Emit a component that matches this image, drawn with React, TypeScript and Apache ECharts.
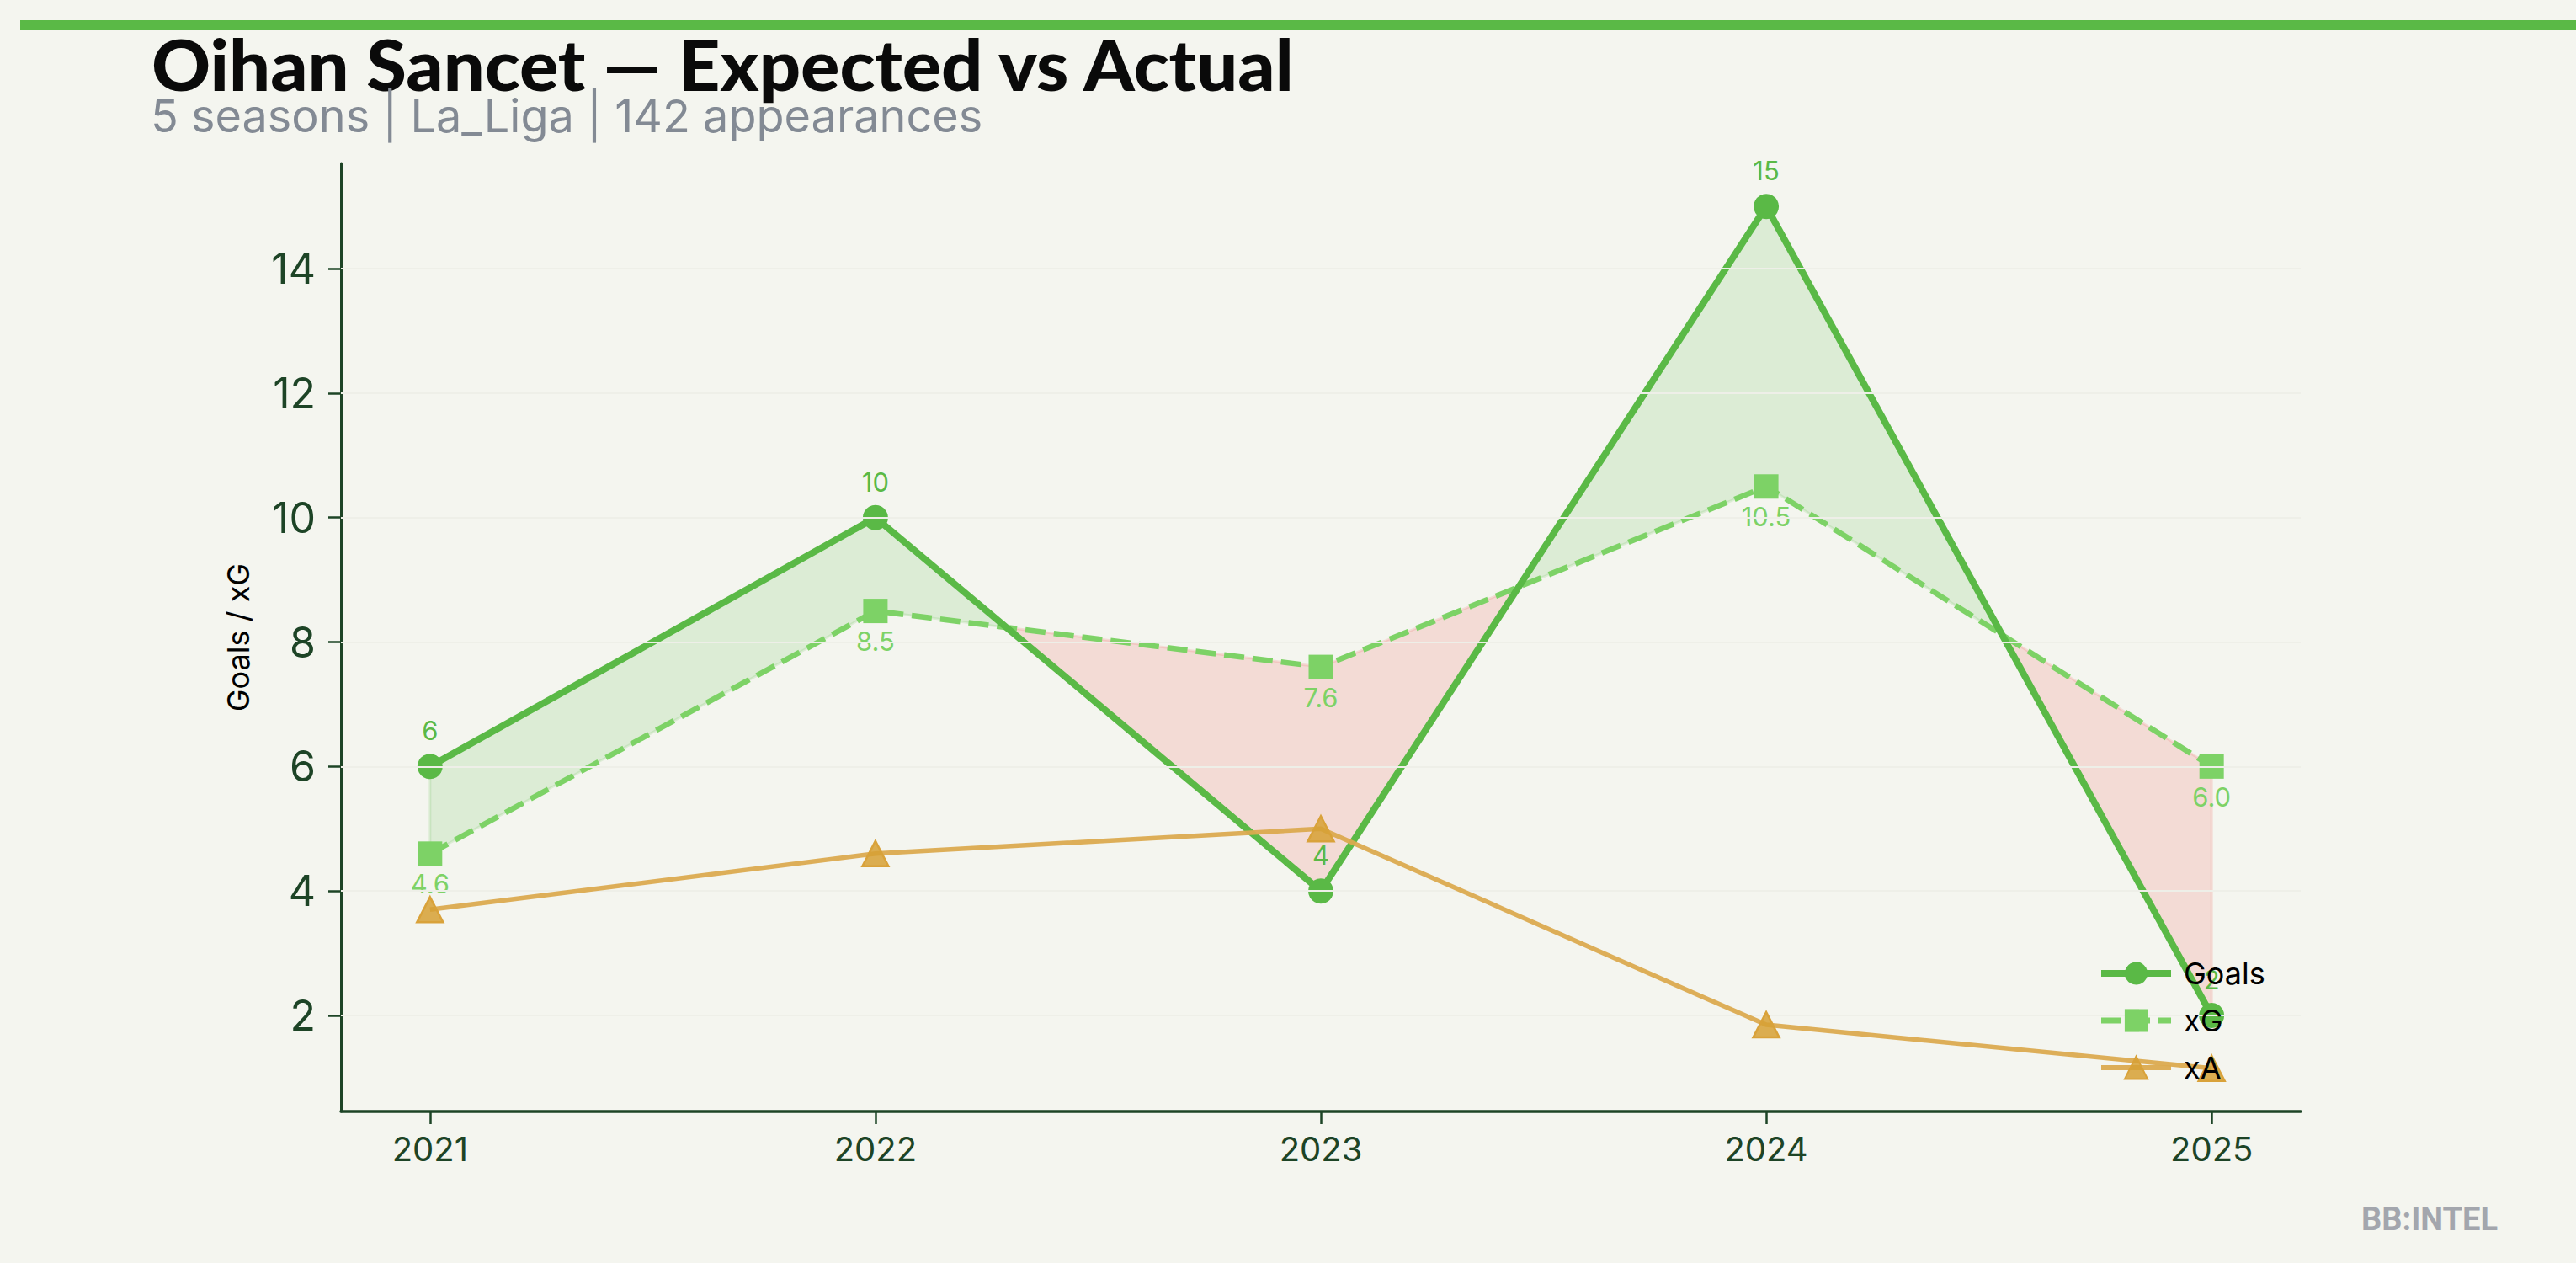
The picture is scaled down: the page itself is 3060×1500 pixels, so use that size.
import React, { useEffect, useRef } from "react";
import * as echarts from "echarts";

const years = [2021, 2022, 2023, 2024, 2025];
const goals = [6, 10, 4, 15, 2];
const xg = [4.6, 8.5, 7.6, 10.5, 6.0];
const xa = [3.7, 4.6, 5.0, 1.85, 1.15];
const yTicks = [2, 4, 6, 8, 10, 12, 14];
const seriesNames = ["Goals", "xG", "xA"];
const titleText = "Oihan Sancet — Expected vs Actual";
const subtitleText = "5 seasons | La_Liga | 142 appearances";
const yAxisTitle = "Goals / xG";
const watermarkText = "BB:INTEL";

const BG = "#f4f5ef";
const GREEN = "#5ab946";
const LIGHT_GREEN = "#7dd266";
const GOLD = "#dbaa4f";
const AXIS = "#1d4426";
const FILL_POS = "rgba(90,185,70,0.15)";
const FILL_NEG = "rgba(236,96,90,0.17)";

function titleScale(): number {
  try {
    const c = document.createElement("canvas");
    const ctx = c.getContext("2d");
    if (!ctx) return 0.9;
    ctx.font = "900 84px Lato";
    const w = ctx.measureText(titleText).width;
    return w > 0 ? 1362 / w : 0.9;
  } catch (e) {
    return 0.9;
  }
}

export default function App() {
  const ref = useRef<HTMLDivElement>(null);
  useEffect(() => {
    if (!ref.current) return;
    const chart = echarts.init(ref.current, null, { renderer: "svg" });
    const fillData = years.map((y, i) => [y, goals[i], xg[i]]);
    const sx = titleScale();

    const option: any = {
      animation: false,
      backgroundColor: BG,
      textStyle: { fontFamily: "Inter" },
      grid: { left: 405, top: 194, width: 2328, height: 1126, containLabel: false },
      xAxis: {
        type: "value",
        min: 2020.8,
        max: 2025.2,
        splitLine: { show: false },
        axisLine: { show: true, lineStyle: { color: AXIS, width: 3.5 } },
        axisTick: { show: true, length: 15, customValues: years, lineStyle: { color: AXIS, width: 2.5 } },
        axisLabel: {
          customValues: years,
          formatter: (v: number) => String(v),
          fontSize: 40,
          fontFamily: "Inter",
          color: AXIS,
          margin: 24,
        },
      },
      yAxis: {
        type: "value",
        min: 0.4575,
        max: 15.6925,
        name: yAxisTitle,
        nameLocation: "middle",
        nameRotate: 90,
        nameGap: 104,
        nameTextStyle: { fontSize: 36, color: "#000", fontFamily: "Inter" },
        splitLine: { show: false },
        axisLine: { show: true, lineStyle: { color: AXIS, width: 3 } },
        axisTick: { show: true, length: 15, customValues: yTicks, lineStyle: { color: AXIS, width: 2.5 } },
        axisLabel: {
          customValues: yTicks,
          fontSize: 50,
          fontFamily: "Inter",
          color: AXIS,
          margin: 30,
        },
      },
      legend: {
        data: [
          { name: seriesNames[0], lineStyle: { width: 8 } },
          { name: seriesNames[1], lineStyle: { width: 7 } },
          { name: seriesNames[2], lineStyle: { width: 6 } },
        ],
        z: 20,
        zlevel: 0,
        orient: "vertical",
        left: 2487,
        top: 1133,
        itemWidth: 83,
        itemHeight: 34,
        itemGap: 20,
        backgroundColor: "transparent",
        textStyle: { fontSize: 36, lineHeight: 34, color: "#000", fontFamily: "Inter", padding: [0, 0, 0, 10] },
      },
      graphic: [
        { type: "rect", shape: { x: 24, y: 24, width: 3036, height: 12 }, style: { fill: GREEN }, z: 10 },
        {
          type: "text",
          x: 180,
          y: 76,
          scaleX: sx,
          style: {
            text: titleText,
            fontSize: 84,
            fontWeight: 900,
            fontFamily: "Lato",
            fill: "#0a0a0a",
            verticalAlign: "middle",
            align: "left",
          },
        },
        {
          type: "text",
          x: 179,
          y: 137,
          style: {
            text: subtitleText,
            fontSize: 54,
            fontFamily: "Inter",
            fill: "#838a94",
            verticalAlign: "middle",
            align: "left",
          },
        },
        {
          type: "text",
          x: 2967,
          y: 1448,
          style: {
            text: watermarkText,
            fontSize: 38,
            fontWeight: "bold",
            fontFamily: "Roboto",
            fill: "#a3a6ad",
            verticalAlign: "middle",
            align: "right",
          },
        },
      ],
      series: [
        {
          type: "custom",
          name: "fill",
          z: 1,
          silent: true,
          data: fillData,
          encode: { x: 0, y: [1, 2] },
          renderItem: (params: any, api: any) => {
            if (params.dataIndexInside !== 0) return null;
            const n = params.dataInsideLength;
            const pts: any[] = [];
            for (let i = 0; i < n; i++) {
              const x = api.value(0, i);
              const g = api.value(1, i);
              const e = api.value(2, i);
              pts.push({ g: api.coord([x, g]), e: api.coord([x, e]), d: g - e });
            }
            const regions: any[] = [];
            const sgn = (d: number) => (d >= 0 ? 1 : -1);
            let cur: any = { sign: sgn(pts[0].d), a: [pts[0].g], b: [pts[0].e] };
            for (let i = 0; i < n - 1; i++) {
              const s2 = sgn(pts[i + 1].d);
              if (s2 !== cur.sign) {
                const t = pts[i].d / (pts[i].d - pts[i + 1].d);
                const p0 = pts[i].g;
                const p1 = pts[i + 1].g;
                const c = [p0[0] + t * (p1[0] - p0[0]), p0[1] + t * (p1[1] - p0[1])];
                cur.a.push(c);
                cur.b.push(c);
                regions.push(cur);
                cur = { sign: s2, a: [c, pts[i + 1].g], b: [c, pts[i + 1].e] };
              } else {
                cur.a.push(pts[i + 1].g);
                cur.b.push(pts[i + 1].e);
              }
            }
            regions.push(cur);
            return {
              type: "group",
              children: regions.map((r) => ({
                type: "polygon",
                shape: { points: r.a.concat(r.b.slice().reverse()) },
                style: {
                  fill: r.sign > 0 ? FILL_POS : FILL_NEG,
                  stroke: r.sign > 0 ? FILL_POS : FILL_NEG,
                  lineWidth: 3,
                },
              })),
            };
          },
          markLine: {
            silent: true,
            symbol: "none",
            animation: false,
            label: { show: false },
            lineStyle: { color: "#eeefe8", width: 2, type: "solid" },
            data: yTicks.map((v) => ({ yAxis: v })),
          },
        },
        {
          type: "line",
          name: "Goals",
          z: 4,
          data: years.map((y, i) => [y, goals[i]]),
          lineStyle: { color: GREEN, width: 8 },
          itemStyle: { color: GREEN },
          symbol: "circle",
          symbolSize: 30,
          showAllSymbol: true,
          label: {
            show: true,
            position: "top",
            distance: 12,
            fontSize: 31,
            fontFamily: "Inter",
            color: GREEN,
            formatter: (p: any) => String(p.value[1]),
          },
        },
        {
          type: "line",
          name: "xG",
          z: 3,
          data: years.map((y, i) => [y, xg[i]]),
          lineStyle: { color: LIGHT_GREEN, width: 6.5, type: [24, 10] },
          itemStyle: { color: LIGHT_GREEN },
          symbol: "rect",
          symbolSize: 29,
          showAllSymbol: true,
          label: {
            show: true,
            position: "bottom",
            distance: 6,
            fontSize: 31,
            fontFamily: "Inter",
            color: LIGHT_GREEN,
            formatter: (p: any) => Number(p.value[1]).toFixed(1),
          },
        },
        {
          type: "line",
          name: "xA",
          z: 5,
          data: years.map((y, i) => [y, xa[i]]),
          lineStyle: { color: GOLD, width: 5.5, opacity: 0.95 },
          itemStyle: { color: "rgba(214,160,52,0.85)", borderColor: "#d9a23a", borderWidth: 2.5 },
          symbol: "triangle",
          symbolSize: [31, 30],
          showAllSymbol: true,
        },
      ],
    };
    chart.setOption(option);
    return () => chart.dispose();
  }, []);

  return (
    <div
      ref={ref}
      style={{ position: "fixed", left: 0, top: 0, width: 3060, height: 1500, background: BG }}
    />
  );
}
